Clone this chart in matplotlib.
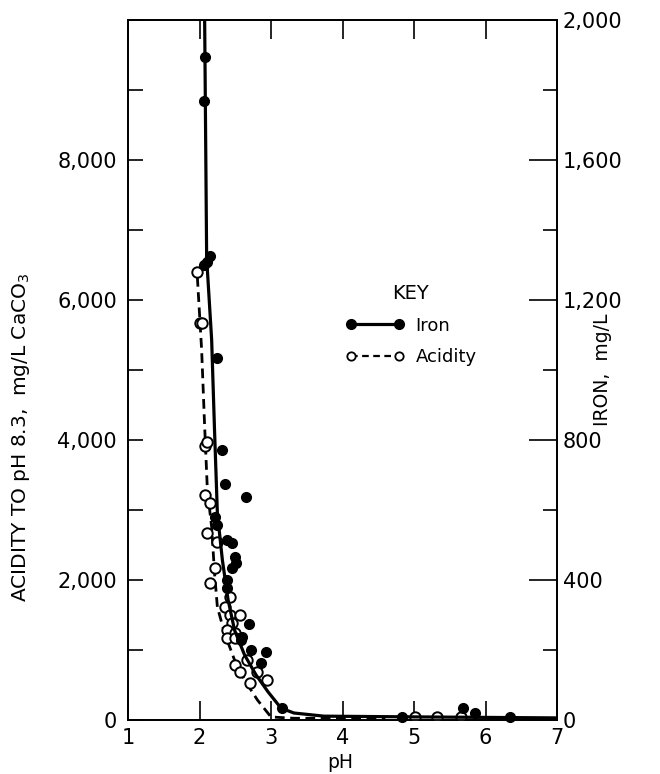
import matplotlib
matplotlib.use("Agg")
import matplotlib.pyplot as plt
from matplotlib.lines import Line2D
from matplotlib.ticker import FuncFormatter, MultipleLocator

# ---------------- data ----------------
# Iron observations (pH, mg/L) - right axis
iron_ph = [2.07, 2.06, 2.14, 2.10, 2.06, 2.24, 2.32, 2.35, 2.65, 2.21, 2.25, 2.38,
           2.46, 2.49, 2.51, 2.46, 2.39, 2.39, 2.69, 2.60, 2.58, 2.72, 2.93, 2.86,
           3.15, 4.83, 5.68, 5.86, 6.34]
iron_val = [1894, 1769, 1326, 1309, 1300, 1034, 771, 674, 637, 580, 557, 514,
            506, 466, 449, 434, 400, 377, 274, 237, 229, 200, 194, 163,
            34, 9, 34, 20, 9]

# Acidity observations (pH, mg/L CaCO3) - left axis
acid_ph = [1.97, 2.00, 2.04, 2.07, 2.11, 2.07, 2.14, 2.11, 2.24, 2.21, 2.14, 2.42,
           2.35, 2.42, 2.56, 2.46, 2.38, 2.49, 2.38, 2.49, 2.67, 2.49, 2.56, 2.81,
           2.94, 2.71, 5.01, 5.32, 5.66]
acid_val = [6400, 5671, 5671, 3914, 3971, 3214, 3100, 2671, 2543, 2171, 1957, 1757,
            1614, 1500, 1500, 1386, 1286, 1243, 1171, 1171, 857, 786, 686, 686,
            571, 529, 43, 43, 43]

# Fitted curves
iron_curve_ph = [2.07, 2.10, 2.17, 2.21, 2.25, 2.32, 2.40, 2.49, 2.63, 2.79, 2.96,
                 3.14, 3.32, 3.74, 4.94, 7.0]
iron_curve_val = [2050, 1320, 1086, 829, 591, 457, 343, 257, 186, 129, 80,
                  34, 20, 11, 9, 6]

acid_curve_ph = [1.97, 2.03, 2.07, 2.11, 2.17, 2.21, 2.25, 2.35, 2.49, 2.63, 2.81,
                 3.0, 3.32, 4.6]
acid_curve_val = [6329, 5286, 4243, 3286, 2757, 2100, 1614, 1243, 857, 571, 286,
                  43, 25, 20]

x_ticks = [1, 2, 3, 4, 5, 6, 7]
left_ticks = [0, 2000, 4000, 6000, 8000]
right_ticks = [0, 400, 800, 1200, 1600, 2000]

# ---------------- figure ----------------
plt.rcParams['font.family'] = ['DejaVu Sans']
fig = plt.figure(figsize=(6.6, 7.74), dpi=100)
W, H = 660, 774
L, R, T, B = 128, 557, 20, 720
ax = fig.add_axes([L / W, 1 - B / H, (R - L) / W, (B - T) / H])
ax2 = ax.twinx()

ax.set_xlim(1, 7)
ax.set_ylim(0, 10000)
ax2.set_ylim(0, 2000)

# curves
ax2.plot(iron_curve_ph, iron_curve_val, color='black', lw=2.3, solid_capstyle='round', zorder=2)
ax.plot(acid_curve_ph, acid_curve_val, color='black', lw=2.0, ls=(0, (3.5, 2.0)), zorder=2)

# points
ax2.plot(iron_ph, iron_val, 'o', ms=7, mfc='black', mec='black', ls='none', zorder=3, clip_on=False)
ax.plot(acid_ph, acid_val, 'o', ms=7.5, mfc='white', mec='black', mew=1.4, ls='none', zorder=4)

# ticks
ax.set_xticks(x_ticks)
ax.set_xticklabels([str(v) for v in x_ticks])
ax.set_yticks(left_ticks)
ax.yaxis.set_minor_locator(MultipleLocator(1000))
ax.yaxis.set_major_formatter(FuncFormatter(lambda v, p: f"{int(v):,}"))
ax2.set_yticks(right_ticks)
ax2.yaxis.set_minor_locator(MultipleLocator(200))
ax2.yaxis.set_major_formatter(FuncFormatter(lambda v, p: f"{int(v):,}"))

ax.tick_params(axis='x', direction='in', length=14, width=1.2, labelsize=15, pad=6,
               top=True)
ax.tick_params(axis='y', which='both', direction='in', length=11, width=1.2, labelsize=15, pad=8)
ax2.tick_params(axis='y', which='major', direction='in', length=20, width=1.2, labelsize=15, pad=4)
ax2.tick_params(axis='y', which='minor', direction='in', length=10, width=1.2)

for a in (ax, ax2):
    for s in a.spines.values():
        s.set_linewidth(1.3)

# labels
fig.text(21 / W, 1 - 437 / H, r"ACIDITY TO pH 8.3,  mg/L CaCO$_3$", rotation=90,
         ha='center', va='center', fontsize=14.5)
fig.text(602 / W, 1 - 370 / H, "IRON,  mg/L", rotation=90, ha='center', va='center',
         fontsize=13.5)
fig.text(340 / W, 1 - 762 / H, "pH", ha='center', va='center', fontsize=13.5)

# legend (KEY)
h_iron = Line2D([], [], color='black', lw=2.3, marker='o', ms=7, mfc='black', mec='black')
h_acid = Line2D([], [], color='black', lw=1.6, ls=(0, (3, 2)), marker='o', ms=6,
                mfc='white', mec='black', mew=1.3)
leg = ax.legend([h_iron, h_acid], ["Iron", "Acidity"], title="KEY", numpoints=2,
                frameon=False, fontsize=13, title_fontsize=14, handlelength=3.3,
                handletextpad=0.6, labelspacing=0.75,
                loc='center', bbox_to_anchor=((411 - L) / (R - L), (B - 325) / (B - T)))

fig.savefig("out.png", dpi=100)
